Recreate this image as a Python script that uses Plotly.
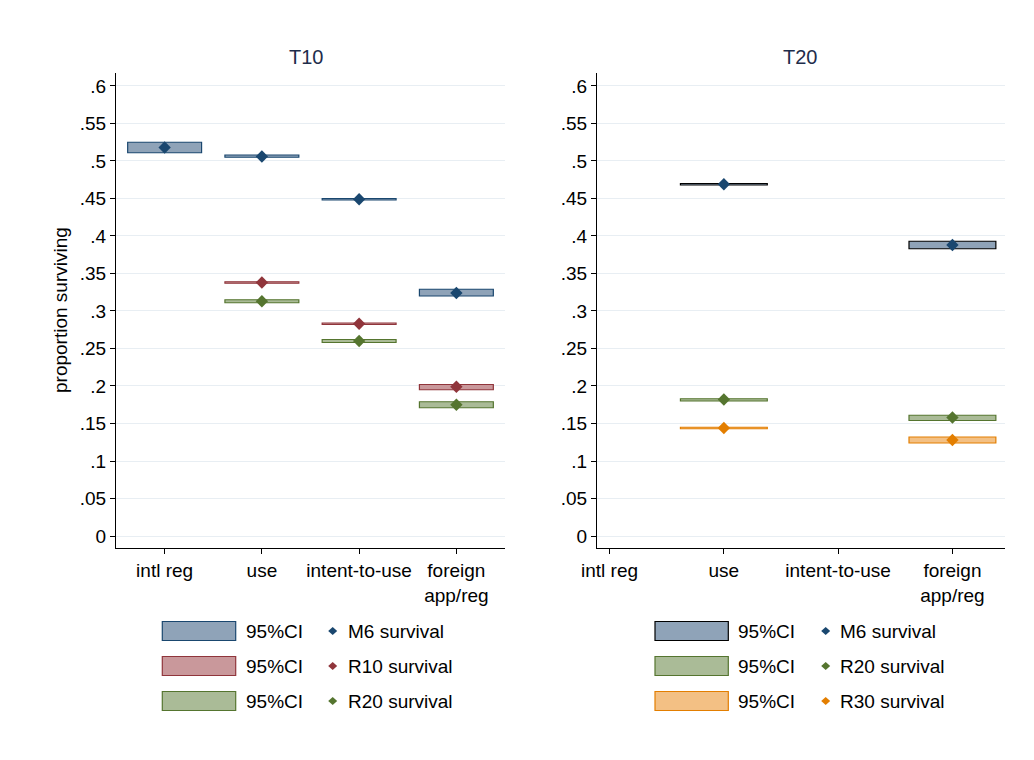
import plotly.graph_objects as go

W, H = 1034, 760

categories = ["intl reg", "use", "intent-to-use", "foreign<br>app/reg"]
cat_pos = [1, 2, 3, 4]

# T10 panel
t10_x = [1, 2, 3, 4]
t10_m6_est = [0.518, 0.506, 0.449, 0.324]
t10_m6_lo = [0.511, 0.505, 0.448, 0.320]
t10_m6_hi = [0.525, 0.508, 0.450, 0.329]

t10_r_x = [2, 3, 4]
t10_r10_est = [0.338, 0.283, 0.199]
t10_r10_lo = [0.337, 0.282, 0.195]
t10_r10_hi = [0.339, 0.284, 0.202]

t10_r20_est = [0.313, 0.260, 0.175]
t10_r20_lo = [0.311, 0.258, 0.171]
t10_r20_hi = [0.315, 0.262, 0.179]

# T20 panel
t20_x = [2, 4]
t20_m6_est = [0.469, 0.388]
t20_m6_lo = [0.468, 0.383]
t20_m6_hi = [0.470, 0.393]

t20_r20_est = [0.182, 0.158]
t20_r20_lo = [0.180, 0.154]
t20_r20_hi = [0.183, 0.161]

t20_r30_est = [0.144, 0.128]
t20_r30_lo = [0.143, 0.124]
t20_r30_hi = [0.145, 0.132]

y_ticks = [0, 0.05, 0.1, 0.15, 0.2, 0.25, 0.3, 0.35, 0.4, 0.45, 0.5, 0.55, 0.6]
y_ticktext = ["0", ".05", ".1", ".15", ".2", ".25", ".3", ".35", ".4", ".45", ".5", ".55", ".6"]

NAVY = "#1a476f"; NAVY_F = "#8fa3b8"
MAROON = "#90353b"; MAROON_F = "#c9989b"
GREEN = "#55752f"; GREEN_F = "#aabb97"
ORANGE = "#e37e00"; ORANGE_F = "#f3c084"

FONT = "Liberation Sans, Arial, sans-serif"
FS = 19
BW = 0.76

fig = go.Figure()

def add_series(xs, est, lo, hi, line_c, fill_c, mk_c, xa, ya):
    fig.add_trace(go.Bar(x=xs, y=[h - l for h, l in zip(hi, lo)], base=lo, width=BW,
                         marker=dict(color=fill_c, line=dict(color=line_c, width=1.2)),
                         xaxis=xa, yaxis=ya, showlegend=False, hoverinfo="skip"))
    fig.add_trace(go.Scatter(x=xs, y=est, mode="markers",
                             marker=dict(symbol="diamond", size=9.5, color=mk_c, line=dict(width=0)),
                             xaxis=xa, yaxis=ya, showlegend=False))

add_series(t10_x, t10_m6_est, t10_m6_lo, t10_m6_hi, NAVY, NAVY_F, NAVY, "x", "y")
add_series(t10_r_x, t10_r10_est, t10_r10_lo, t10_r10_hi, MAROON, MAROON_F, MAROON, "x", "y")
add_series(t10_r_x, t10_r20_est, t10_r20_lo, t10_r20_hi, GREEN, GREEN_F, GREEN, "x", "y")

add_series(t20_x, t20_m6_est, t20_m6_lo, t20_m6_hi, "#000000", NAVY_F, NAVY, "x2", "y2")
add_series(t20_x, t20_r20_est, t20_r20_lo, t20_r20_hi, GREEN, GREEN_F, GREEN, "x2", "y2")
add_series(t20_x, t20_r30_est, t20_r30_lo, t20_r30_hi, ORANGE, ORANGE_F, ORANGE, "x2", "y2")

def px(x): return x / W
def py(y): return 1 - y / H

yrange = [-0.016, 0.6177]
common_y = dict(range=yrange, tickvals=y_ticks, ticktext=y_ticktext, showgrid=True,
                gridcolor="#e8eef3", gridwidth=1.2, zeroline=False, showline=True,
                linecolor="#000000", linewidth=1, ticks="outside", ticklen=5, tickcolor="#000",
                automargin=False,
                tickfont=dict(size=FS, color="#000", family=FONT))
common_x = dict(tickvals=cat_pos, ticktext=categories, showgrid=False, zeroline=False,
                showline=True, linecolor="#000000", linewidth=1, ticks="outside", ticklen=5,
                automargin=False,
                tickcolor="#000", tickfont=dict(size=FS, color="#000", family=FONT))

fig.update_layout(
    width=W, height=H, margin=dict(l=0, r=0, t=0, b=0, autoexpand=False),
    paper_bgcolor="white", plot_bgcolor="white", barmode="overlay",
    font=dict(family=FONT, color="#000"),
    xaxis=dict(domain=[px(116), px(505)], range=[0.5, 4.5], anchor="y", **common_x),
    yaxis=dict(domain=[py(548), py(72.7)], anchor="x", **common_y),
    xaxis2=dict(domain=[px(597), px(1005)], range=[0.89, 4.46], anchor="y2", **common_x),
    yaxis2=dict(domain=[py(548), py(72.7)], anchor="x2", **common_y),
)

annotations = [
    dict(text="T10", x=px(306), y=py(57), xref="paper", yref="paper", showarrow=False,
         font=dict(size=20, color="#1e2d4b", family=FONT), xanchor="center", yanchor="middle"),
    dict(text="T20", x=px(800), y=py(57), xref="paper", yref="paper", showarrow=False,
         font=dict(size=20, color="#1e2d4b", family=FONT), xanchor="center", yanchor="middle"),
    dict(text="proportion surviving", x=px(60), y=py(310), xref="paper", yref="paper",
         showarrow=False, textangle=-90, font=dict(size=FS, color="#000", family=FONT),
         xanchor="center", yanchor="middle"),
]

shapes = []
legend_left = [("M6 survival", NAVY, NAVY_F, NAVY), ("R10 survival", MAROON, MAROON_F, MAROON),
               ("R20 survival", GREEN, GREEN_F, GREEN)]
legend_right = [("M6 survival", "#000000", NAVY_F, NAVY), ("R20 survival", GREEN, GREEN_F, GREEN),
                ("R30 survival", ORANGE, ORANGE_F, ORANGE)]
row_y = [631, 666, 701]

def add_legend(items, bx0, bx1, tx, mx, mtx):
    for (label, lc, fc, mc), yc in zip(items, row_y):
        shapes.append(dict(type="rect", xref="paper", yref="paper",
                           x0=px(bx0), x1=px(bx1), y0=py(yc + 9.5), y1=py(yc - 9.5),
                           fillcolor=fc, line=dict(color=lc, width=1.2)))
        annotations.append(dict(text="95%CI", x=px(tx), y=py(yc), xref="paper", yref="paper",
                                showarrow=False, xanchor="left", yanchor="middle",
                                font=dict(size=FS, color="#000", family=FONT)))
        dx, dy = 4.5, 4
        path = (f"M {px(mx - dx)} {py(yc)} L {px(mx)} {py(yc - dy)} "
                f"L {px(mx + dx)} {py(yc)} L {px(mx)} {py(yc + dy)} Z")
        shapes.append(dict(type="path", xref="paper", yref="paper", path=path,
                           fillcolor=mc, line=dict(width=0)))
        annotations.append(dict(text=label, x=px(mtx), y=py(yc), xref="paper", yref="paper",
                                showarrow=False, xanchor="left", yanchor="middle",
                                font=dict(size=FS, color="#000", family=FONT)))

add_legend(legend_left, 162.3, 235.7, 244, 332.7, 346)
add_legend(legend_right, 655, 728.3, 736, 825.7, 838)

fig.update_layout(annotations=annotations, shapes=shapes)

fig.write_html("out.html")
